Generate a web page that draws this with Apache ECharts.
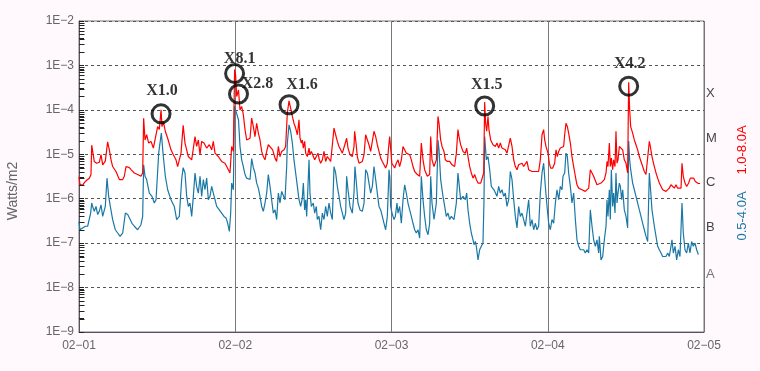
<!DOCTYPE html>
<html><head><meta charset="utf-8">
<script src="https://cdn.jsdelivr.net/npm/echarts@6/dist/echarts.min.js"></script>
<style>html,body{margin:0;padding:0;background:#fff8fc;}#c{width:760px;height:371px;}</style>
</head><body><div id="c"></div>
<script>
// ---- data (x = hours since 02-01 00:00, y = W/m2) ----
const dayLabels = ['02\u221201','02\u221202','02\u221203','02\u221204','02\u221205'];
const classLetters = ['X','M','C','B','A'];
const classLevels = [1e-4,1e-5,1e-6,1e-7,1e-8];
const flareNames = ['X1.0','X8.1','X2.8','X1.6','X1.5','X4.2'];
const flareHours = [12.6,23.9,24.5,32.26,62.31,84.43];
const flareValues = [1.0e-4,8.1e-4,2.8e-4,1.6e-4,1.5e-4,4.2e-4];
const longSeries = [[0,3.1e-6],[0.15,2.1e-6],[0.56,2.0e-6],[0.82,2.3e-6],[1.18,2.6e-6],[1.59,2.9e-6],[1.84,3.5e-6],[1.95,1.6e-5],[2.35,6.9e-6],[2.71,6.3e-6],[3.12,6.6e-6],[3.38,9.8e-6],[3.64,5.8e-6],[4.04,7.0e-6],[4.4,1.9e-5],[4.66,1.26e-5],[4.92,7.5e-6],[5.17,5.3e-6],[5.68,4.1e-6],[6.2,2.7e-6],[6.71,2.7e-6],[6.96,3.2e-6],[7.22,5.3e-6],[7.73,5.0e-6],[7.99,4.5e-6],[8.5,3.8e-6],[9.01,3.5e-6],[9.52,3.2e-6],[9.78,3.8e-6],[9.93,6.5e-5],[10.14,2.1e-5],[10.39,2.75e-5],[10.7,1.79e-5],[11.06,1.95e-5],[11.42,1.38e-5],[11.72,1.26e-5],[12.08,4.2e-5],[12.34,3.6e-5],[12.6,1.0e-4],[12.75,4.2e-5],[12.95,5.5e-5],[13.26,3.3e-5],[13.62,2.3e-5],[14.13,1.26e-5],[14.49,9.8e-6],[14.9,7.5e-6],[15.15,5.3e-6],[15.67,1.06e-5],[16.0,4.5e-5],[16.28,1.79e-5],[16.79,8.9e-6],[17.31,7.5e-6],[17.82,2.5e-5],[18.07,1.5e-5],[18.33,2.1e-5],[18.59,9.8e-6],[18.84,1.95e-5],[19.2,1.79e-5],[19.61,1.38e-5],[20.02,1.64e-5],[20.38,1.26e-5],[20.63,1.95e-5],[20.89,1.06e-5],[21.4,8.9e-6],[21.91,6.9e-6],[22.43,6.3e-6],[22.94,4.5e-6],[23.19,3.8e-6],[23.45,1.5e-5],[23.71,1.16e-5],[23.9,8.1e-4],[24.05,6.2e-4],[24.22,2.0e-4],[24.5,2.8e-4],[24.73,1.0e-4],[24.99,1.19e-4],[25.24,7.8e-5],[25.5,3.6e-5],[25.75,2.1e-5],[26.01,1.95e-5],[26.27,2.3e-5],[26.52,6.5e-5],[26.78,4.2e-5],[27.03,2.5e-5],[27.29,5.0e-5],[27.55,3.0e-5],[27.8,2.1e-5],[28.06,1.16e-5],[28.31,8.9e-6],[28.57,7.5e-6],[28.83,1.16e-5],[29.08,1.64e-5],[29.34,1.79e-5],[29.75,1.26e-5],[30.11,8.2e-6],[30.36,6.9e-6],[30.62,1.5e-5],[30.87,8.9e-6],[31.13,1.16e-5],[31.49,1.26e-5],[31.74,1.5e-5],[32.0,8.5e-5],[32.26,1.6e-4],[32.51,1.1e-4],[32.77,7.1e-5],[33.02,5.0e-5],[33.28,3.9e-5],[33.54,2.75e-5],[33.79,6.0e-5],[33.95,2.3e-5],[34.15,1.79e-5],[34.3,2.1e-5],[34.46,1.38e-5],[34.66,1.95e-5],[34.82,1.06e-5],[35.07,8.9e-6],[35.33,1.38e-5],[35.48,9.8e-6],[35.69,1.16e-5],[35.99,1.06e-5],[36.2,7.5e-6],[36.45,6.9e-6],[36.71,1.06e-5],[36.91,7.5e-6],[37.12,6.3e-6],[37.38,7.5e-6],[37.63,1.16e-5],[37.89,6.9e-6],[38.14,8.9e-6],[38.4,8.2e-6],[38.66,6.9e-6],[38.91,6.3e-6],[39.17,3.9e-5],[39.42,2.75e-5],[39.68,1.95e-5],[39.94,1.5e-5],[40.19,1.26e-5],[40.45,1.06e-5],[40.7,9.8e-6],[41.11,2.3e-5],[41.32,1.38e-5],[41.63,9.8e-6],[41.98,8.9e-6],[42.24,1.5e-5],[42.34,3.3e-5],[42.55,1.79e-5],[42.75,8.9e-6],[43.01,6.3e-6],[43.26,5.8e-6],[43.52,6.9e-6],[43.78,9.8e-6],[44.03,2.75e-5],[44.29,2.5e-5],[44.54,1.64e-5],[44.8,1.16e-5],[45.06,1.26e-5],[45.31,3.3e-5],[45.57,2.5e-5],[45.82,1.64e-5],[46.08,1.16e-5],[46.34,8.2e-6],[46.59,6.9e-6],[46.85,5.8e-6],[47.1,4.9e-6],[47.36,6.3e-6],[47.55,1.4e-5],[47.72,2.5e-5],[47.9,1.2e-5],[48.05,6.3e-6],[48.23,5.8e-6],[48.49,4.9e-6],[48.74,6.3e-6],[49.0,7.5e-6],[49.25,5.3e-6],[49.51,7.5e-6],[49.77,1.5e-5],[50.02,1.38e-5],[50.28,1.06e-5],[50.53,1.16e-5],[50.79,9.8e-6],[51.05,7.5e-6],[51.3,5.3e-6],[51.56,4.1e-6],[51.97,3.5e-6],[52.33,3.2e-6],[52.58,1.79e-5],[52.84,7.5e-6],[53.09,4.5e-6],[53.5,3.2e-6],[53.86,3.5e-6],[54.02,2.5e-5],[54.22,7.5e-6],[54.53,5.3e-6],[54.89,7.5e-6],[55.14,7.1e-5],[55.3,5.0e-5],[55.55,2.1e-5],[55.76,1.5e-5],[56.06,1.16e-5],[56.27,7.5e-6],[56.58,6.9e-6],[56.93,6.9e-6],[57.29,5.8e-6],[57.7,5.3e-6],[57.96,1.06e-5],[58.21,3.6e-5],[58.37,2.5e-5],[58.62,1.64e-5],[58.98,1.16e-5],[59.34,1.06e-5],[59.55,1.38e-5],[59.75,8.9e-6],[60.01,5.3e-6],[60.26,3.8e-6],[60.52,2.9e-6],[60.77,3.5e-6],[61.03,2.7e-6],[61.29,2.25e-6],[61.7,2.25e-6],[61.95,2.06e-6],[62.16,3.8e-6],[62.31,1.5e-4],[62.46,5.0e-5],[62.62,3.3e-5],[62.82,7.1e-5],[62.97,3.6e-5],[63.23,2.1e-5],[63.59,1.64e-5],[63.95,1.5e-5],[64.2,1.79e-5],[64.46,1.38e-5],[64.72,1.79e-5],[64.97,1.38e-5],[65.23,1.5e-5],[65.48,1.26e-5],[65.74,1.06e-5],[66.0,9.8e-6],[66.25,2.3e-5],[66.51,1.5e-5],[66.77,7.5e-6],[67.02,5.3e-6],[67.28,4.5e-6],[67.53,5.8e-6],[67.79,5.8e-6],[68.04,6.3e-6],[68.3,5.3e-6],[68.56,4.9e-6],[68.81,6.9e-6],[69.07,4.5e-6],[69.32,4.9e-6],[69.58,4.1e-6],[69.84,4.5e-6],[70.09,4.1e-6],[70.35,3.8e-6],[70.6,4.1e-6],[70.86,7.5e-6],[71.12,2.75e-5],[71.37,3.6e-5],[71.53,2.1e-5],[71.73,1.5e-5],[72.04,1.06e-5],[72.24,6.3e-6],[72.45,4.9e-6],[72.76,4.9e-6],[73.06,6.3e-6],[73.27,1.26e-5],[73.47,8.9e-6],[73.68,1.16e-5],[73.93,1.38e-5],[74.19,1.26e-5],[74.44,1.5e-5],[74.6,2.75e-5],[74.8,5.0e-5],[75.01,4.2e-5],[75.21,3.0e-5],[75.47,1.79e-5],[75.72,8.9e-6],[75.98,5.3e-6],[76.24,3.2e-6],[76.49,2.06e-6],[76.75,1.73e-6],[77.26,1.59e-6],[77.77,1.46e-6],[78.29,1.73e-6],[78.54,4.5e-6],[78.8,3.8e-6],[79.05,3.2e-6],[79.31,3.5e-6],[79.56,2.06e-6],[79.82,1.89e-6],[80.18,2.25e-6],[80.44,2.06e-6],[80.69,2.7e-6],[80.95,3.8e-6],[81.1,6.9e-6],[81.25,5.3e-6],[81.46,1.79e-5],[81.61,5.3e-6],[81.77,8.2e-6],[81.97,4.5e-6],[82.12,7.5e-6],[82.33,5.3e-6],[82.48,3.3e-5],[82.64,6.3e-6],[82.79,7.5e-6],[83.0,1.5e-5],[83.25,1.64e-5],[83.51,1.26e-5],[83.76,7.5e-6],[84.02,6.3e-6],[84.27,3.8e-6],[84.43,4.2e-4],[84.58,1.0e-4],[84.74,4.2e-5],[85.04,3.0e-5],[85.3,2.1e-5],[85.55,1.64e-5],[85.81,1.26e-5],[86.07,8.9e-6],[86.32,6.9e-6],[86.58,5.3e-6],[86.83,4.1e-6],[87.09,3.5e-6],[87.35,3.2e-6],[87.6,1.95e-5],[87.76,1.5e-5],[88.01,8.9e-6],[88.37,5.3e-6],[88.63,3.8e-6],[88.88,2.9e-6],[89.14,2.25e-6],[89.4,1.89e-6],[89.65,1.59e-6],[89.91,1.46e-6],[90.16,1.46e-6],[90.42,1.59e-6],[90.67,1.73e-6],[90.93,2.06e-6],[91.19,1.89e-6],[91.44,1.73e-6],[91.7,2.06e-6],[91.95,1.73e-6],[92.21,1.89e-6],[92.47,1.73e-6],[92.62,6.3e-6],[92.82,3.2e-6],[93.08,2.25e-6],[93.34,1.89e-6],[93.64,2.25e-6],[93.9,2.9e-6],[94.16,2.7e-6],[94.41,2.9e-6],[94.67,2.45e-6],[94.92,2.25e-6],[95.13,2.2e-6],[95.4,2.2e-6]];
const shortSeries = [[0,3.0e-7],[0.15,2.0e-7],[0.56,2.2e-7],[0.97,2.4e-7],[1.33,2.4e-7],[1.59,2.6e-7],[1.79,4.75e-7],[1.95,8.0e-7],[2.1,6.7e-7],[2.35,5.2e-7],[2.61,6.7e-7],[2.87,4.4e-7],[3.12,5.2e-7],[3.38,7.3e-7],[3.64,4.0e-7],[4.04,6.7e-7],[4.3,2.9e-6],[4.56,1.13e-6],[4.81,6.7e-7],[5.17,3.4e-7],[5.58,2.0e-7],[5.94,1.69e-7],[6.3,1.42e-7],[6.71,1.69e-7],[7.12,4.75e-7],[7.48,4.4e-7],[7.73,4.0e-7],[8.14,2.8e-7],[8.5,2.4e-7],[9.01,2.0e-7],[9.52,2.6e-7],[9.78,4.0e-7],[9.93,5.8e-6],[10.14,3.2e-6],[10.39,2.7e-6],[10.8,1.34e-6],[11.21,1.13e-6],[11.57,8.0e-7],[11.83,9.5e-7],[12.24,1.06e-5],[12.44,1.79e-5],[12.65,3.0e-5],[12.95,8.9e-6],[13.26,3.2e-6],[13.62,1.59e-6],[14.13,9.5e-7],[14.64,6.7e-7],[15.0,3.4e-7],[15.41,4.0e-7],[15.77,2.7e-6],[16.0,5.0e-6],[16.28,3.8e-6],[16.54,1.13e-6],[16.79,6.7e-7],[17.05,8.0e-7],[17.31,4.0e-7],[17.56,1.13e-6],[17.82,3.8e-6],[18.07,1.89e-6],[18.33,1.34e-6],[18.59,3.2e-6],[18.84,1.13e-6],[19.1,2.7e-6],[19.35,1.59e-6],[19.61,2.9e-6],[19.87,9.5e-7],[20.12,1.13e-6],[20.38,1.89e-6],[20.63,1.34e-6],[20.89,9.5e-7],[21.15,6.7e-7],[21.56,5.6e-7],[21.91,4.75e-7],[22.27,4.0e-7],[22.58,3.7e-7],[22.84,2.8e-7],[23.09,1.84e-7],[23.3,4.75e-7],[23.45,2.25e-6],[23.71,1.59e-6],[23.88,1.2e-4],[24.05,1.0e-4],[24.22,9.2e-5],[24.5,6.0e-5],[24.73,1.5e-5],[24.99,7.5e-6],[25.24,5.3e-6],[25.5,3.5e-6],[25.75,2.9e-6],[26.01,3.2e-6],[26.27,2.7e-6],[26.52,8.0e-6],[26.78,5.0e-6],[27.03,3.8e-6],[27.29,2.25e-6],[27.55,1.73e-6],[27.8,1.13e-6],[28.06,6.7e-7],[28.31,5.2e-7],[28.57,8.0e-7],[28.83,1.34e-6],[29.08,3.5e-6],[29.34,1.89e-6],[29.59,9.5e-7],[29.85,4.75e-7],[30.11,5.6e-7],[30.36,3.4e-7],[30.62,1.34e-6],[30.87,8.0e-7],[31.13,1.46e-6],[31.39,1.34e-6],[31.64,9.5e-7],[31.9,5.3e-6],[32.0,1.79e-5],[32.26,4.6e-5],[32.51,3.3e-5],[32.77,1.79e-5],[33.02,7.5e-6],[33.28,3.8e-6],[33.54,1.89e-6],[33.79,9.5e-7],[34.05,6.7e-7],[34.3,1.03e-6],[34.46,2.25e-6],[34.66,5.6e-7],[34.82,9.5e-7],[34.97,4.0e-7],[35.17,1.89e-6],[35.33,7.5e-6],[35.48,1.34e-6],[35.69,6.7e-7],[35.99,8.0e-7],[36.2,4.75e-7],[36.45,6.7e-7],[36.61,3.4e-7],[36.86,4.0e-7],[37.12,2.0e-7],[37.38,4.75e-7],[37.63,3.4e-7],[37.89,6.7e-7],[38.14,4.0e-7],[38.4,8.0e-7],[38.66,4.75e-7],[38.91,3.4e-7],[39.17,5.3e-6],[39.42,3.8e-6],[39.68,1.89e-6],[39.94,1.13e-6],[40.19,6.7e-7],[40.45,4.75e-7],[40.7,3.4e-7],[40.96,4.75e-7],[41.11,3.2e-6],[41.32,1.59e-6],[41.63,6.7e-7],[41.98,4.75e-7],[42.24,1.34e-6],[42.39,5.3e-6],[42.65,1.89e-6],[42.85,8.0e-7],[43.16,5.6e-7],[43.52,5.2e-7],[43.78,8.0e-7],[44.03,4.5e-6],[44.29,3.8e-6],[44.54,2.25e-6],[44.8,1.34e-6],[45.06,1.89e-6],[45.31,5.3e-6],[45.57,2.7e-6],[45.82,1.34e-6],[46.08,6.7e-7],[46.34,5.6e-7],[46.59,4.0e-7],[46.85,2.8e-7],[47.1,2.0e-7],[47.36,4.0e-7],[47.62,4.5e-6],[47.75,3.0e-6],[47.87,6.7e-7],[48.08,4.75e-7],[48.38,3.4e-7],[48.59,4.0e-7],[48.84,8.0e-7],[49.0,4.75e-7],[49.25,6.7e-7],[49.51,2.8e-7],[49.77,9.5e-7],[50.02,2.06e-6],[50.28,1.34e-6],[50.53,8.0e-7],[50.79,5.6e-7],[51.05,4.0e-7],[51.3,2.8e-7],[51.56,2.0e-7],[51.81,1.69e-7],[52.07,2.0e-7],[52.33,1.3e-7],[52.58,3.2e-6],[52.84,9.5e-7],[53.09,4.0e-7],[53.35,2.0e-7],[53.61,1.55e-7],[53.86,2.8e-7],[54.02,3.2e-6],[54.22,8.0e-7],[54.53,3.4e-7],[54.89,8.0e-7],[55.14,2.1e-5],[55.3,1.26e-5],[55.55,2.7e-6],[55.91,1.13e-6],[56.17,6.7e-7],[56.42,4.0e-7],[56.68,4.75e-7],[56.93,3.4e-7],[57.19,4.0e-7],[57.6,3.4e-7],[57.96,8.0e-7],[58.21,3.8e-6],[58.37,2.25e-6],[58.62,9.5e-7],[58.98,1.13e-6],[59.34,9.5e-7],[59.55,1.34e-6],[59.75,5.6e-7],[60.01,2.8e-7],[60.26,1.69e-7],[60.52,1.19e-7],[60.67,9.2e-8],[60.88,1.09e-7],[61.03,8.5e-8],[61.29,4.2e-8],[61.54,7.1e-8],[61.8,8.5e-8],[62.05,1.0e-7],[62.21,9.5e-7],[62.31,2.5e-5],[62.57,7.5e-6],[62.82,8.9e-6],[63.08,4.5e-6],[63.33,1.89e-6],[63.74,1.59e-6],[63.95,1.59e-6],[64.2,1.13e-6],[64.46,1.89e-6],[64.72,1.34e-6],[64.97,1.59e-6],[65.23,1.13e-6],[65.48,1.34e-6],[65.74,6.7e-7],[66.0,9.5e-7],[66.25,4.1e-6],[66.51,2.7e-6],[66.77,9.5e-7],[67.02,4.0e-7],[67.28,2.2e-7],[67.53,6.7e-7],[67.79,4.0e-7],[68.04,4.75e-7],[68.3,3.4e-7],[68.56,2.4e-7],[68.81,4.75e-7],[69.07,9.5e-7],[69.32,2.4e-7],[69.58,3.4e-7],[69.84,2.0e-7],[70.09,2.8e-7],[70.35,2.0e-7],[70.6,2.4e-7],[70.86,1.34e-6],[71.12,3.8e-6],[71.37,6.3e-6],[71.63,1.89e-6],[71.89,6.7e-7],[72.14,2.8e-7],[72.4,2.0e-7],[72.65,3.4e-7],[72.91,2.8e-7],[73.17,8.0e-7],[73.42,1.59e-6],[73.68,9.5e-7],[73.93,1.89e-6],[74.19,1.59e-6],[74.34,3.2e-6],[74.6,3.8e-6],[74.8,1.06e-5],[75.01,8.9e-6],[75.21,3.8e-6],[75.47,1.89e-6],[75.72,8.0e-7],[75.98,1.34e-6],[76.24,3.4e-7],[76.49,1.19e-7],[76.75,8.5e-8],[77.01,7.1e-8],[77.26,6.5e-8],[77.52,7.1e-8],[77.77,6.0e-8],[78.03,7.1e-8],[78.29,6.0e-8],[78.54,5.6e-7],[78.8,2.4e-7],[79.05,1.19e-7],[79.31,8.5e-8],[79.56,1.19e-7],[79.82,6.0e-8],[79.92,1.42e-7],[80.18,4.2e-8],[80.44,5.0e-8],[80.69,1.19e-7],[80.95,2.4e-7],[81.1,9.5e-7],[81.25,4.0e-7],[81.46,1.59e-6],[81.61,3.4e-7],[81.77,4.5e-6],[81.97,6.7e-7],[82.12,1.34e-6],[82.33,4.75e-7],[82.48,3.8e-6],[82.64,8.0e-7],[82.79,1.34e-6],[83.0,2.25e-6],[83.15,1.89e-6],[83.35,9.5e-7],[83.51,1.59e-6],[83.76,5.6e-7],[84.02,4.0e-7],[84.27,2.2e-7],[84.43,2.0e-5],[84.58,7.5e-6],[84.74,4.5e-6],[85.04,2.25e-6],[85.3,1.59e-6],[85.55,1.13e-6],[85.81,8.0e-7],[86.07,5.6e-7],[86.32,4.0e-7],[86.58,2.8e-7],[86.83,2.0e-7],[87.09,1.42e-7],[87.35,1.09e-7],[87.6,3.8e-6],[87.76,1.89e-6],[88.01,5.6e-7],[88.37,2.4e-7],[88.63,1.42e-7],[88.88,8.5e-8],[89.14,7.1e-8],[89.4,6.0e-8],[89.65,5.0e-8],[89.91,4.6e-8],[90.16,5.0e-8],[90.42,6.0e-8],[90.67,5.0e-8],[90.93,8.5e-8],[91.08,1.19e-7],[91.29,6.0e-8],[91.55,8.5e-8],[91.8,4.2e-8],[92.06,7.1e-8],[92.31,5.0e-8],[92.62,8.0e-7],[92.82,1.69e-7],[93.08,7.1e-8],[93.34,6.0e-8],[93.59,1.0e-7],[93.85,6.0e-8],[94.1,1.09e-7],[94.36,8.5e-8],[94.62,1.0e-7],[94.87,7.1e-8],[95.13,5.5e-8]];

// ---- chart ----
const RED = '#ff0000', BLUE = '#1a78a6';
const minorTickValues = [];
for (let e = -9; e < -2; e++) for (let m = 2; m <= 9; m++) minorTickValues.push(m * Math.pow(10, e));
const minorTickExponents = minorTickValues.map(v => Math.log10(v));
const flareLabelOffsets = [[1,-23],[5,-15],[19,-10],[13,-20],[2,-21],[1,-22]];
const classOffsets = [-16,-16,-16,-16,-13];

const chart = echarts.init(document.getElementById('c'), null, {renderer: 'canvas'});
chart.setOption({
  animation: false,
  backgroundColor: '#fff8fc',
  grid: {left: 79, right: 56, top: 21, bottom: 39, show: true, backgroundColor: '#ffffff', borderColor: '#7a7a7a', borderWidth: 1},
  xAxis: {
    type: 'value', min: 0, max: 96, interval: 24,
    axisTick: {show: false},
    axisLabel: {color: '#666', fontSize: 12, fontFamily: 'Liberation Sans', margin: 8,
      formatter: v => dayLabels[Math.round(v / 24)]},
    splitLine: {show: true, lineStyle: {color: '#777', width: 1, type: 'solid'}}
  },
  yAxis: [
    {
      type: 'log', logBase: 10, min: 1e-9, max: 1e-2, splitNumber: 7,
      axisTick: {show: true, inside: true, length: 5, lineStyle: {color: '#222'}},
      axisLabel: {color: '#666', fontSize: 12, fontFamily: 'Liberation Sans', margin: 5,
        formatter: v => '1E\u2212' + Math.round(-Math.log10(v))},
      splitLine: {show: true, lineStyle: {color: '#555', width: 1, type: [3, 3]}}
    },
    {
      // same range in exponent space, only used to draw the 2..9 minor ticks
      type: 'value', min: -9, max: -2, position: 'left', offset: 0,
      axisLine: {show: false}, axisLabel: {show: false}, splitLine: {show: false},
      axisTick: {show: true, inside: true, length: 5, customValues: minorTickExponents,
        lineStyle: {color: '#222', width: 1}}
    }
  ],
  series: [
    {type: 'line', name: '0.5-4.0A', data: shortSeries, symbol: 'none', color: BLUE,
      lineStyle: {color: BLUE, width: 1.2}, z: 4},
    {type: 'line', name: '1.0-8.0A', data: longSeries, symbol: 'none', color: RED,
      lineStyle: {color: RED, width: 1.2}, z: 5},
    {type: 'scatter', silent: true, z: 10, clip: false,
      data: flareHours.map((h, i) => ({value: [h, flareValues[i]], name: flareNames[i],
        label: {offset: flareLabelOffsets[i]}})),
      symbol: 'circle', symbolSize: 18, symbolOffset: [0, 4],
      itemStyle: {color: 'rgba(0,0,0,0)', borderColor: '#000', borderWidth: 3},
      label: {show: true, position: 'inside', formatter: p => p.name, color: '#000',
        fontFamily: 'Liberation Serif', fontWeight: 'bold', fontSize: 16, textBorderWidth: 0}},
    {type: 'scatter', silent: true, z: 10, clip: false, symbolSize: 0,
      data: classLevels.map((v, i) => ({value: [96, v], name: classLetters[i],
        label: {offset: [0, classOffsets[i]], color: i === 4 ? '#555' : '#111'}})),
      label: {show: true, position: 'right', distance: 2, formatter: p => p.name,
        fontFamily: 'Liberation Sans', fontSize: 13}}
  ]
});

// also place the minor ticks through the log axis itself (graphic overlay)
const x0 = Math.round(chart.convertToPixel({xAxisIndex: 0}, 0)) + 0.5;
const graphics = [];
minorTickValues.forEach(v => {
  const y = Math.round(chart.convertToPixel({yAxisIndex: 0}, v)) + 0.5;
  graphics.push({type: 'line', z: 100,
    shape: {x1: x0, y1: y, x2: x0 + 5, y2: y}, style: {stroke: '#222', lineWidth: 1}});
});
graphics.push(
  {type: 'text', x: 13, y: 191, rotation: Math.PI / 2, z: 100,
    style: {text: 'Watts/m2', fill: '#666', font: '14px "Liberation Sans"', align: 'center', verticalAlign: 'middle'}},
  {type: 'text', x: 742, y: 150, rotation: Math.PI / 2, z: 100,
    style: {text: '1.0-8.0A', fill: RED, font: '13px "Liberation Sans"', align: 'center', verticalAlign: 'middle'}},
  {type: 'text', x: 742, y: 216, rotation: Math.PI / 2, z: 100,
    style: {text: '0.5-4.0A', fill: BLUE, font: '13px "Liberation Sans"', align: 'center', verticalAlign: 'middle'}}
);
chart.setOption({graphic: graphics});
</script></body></html>
